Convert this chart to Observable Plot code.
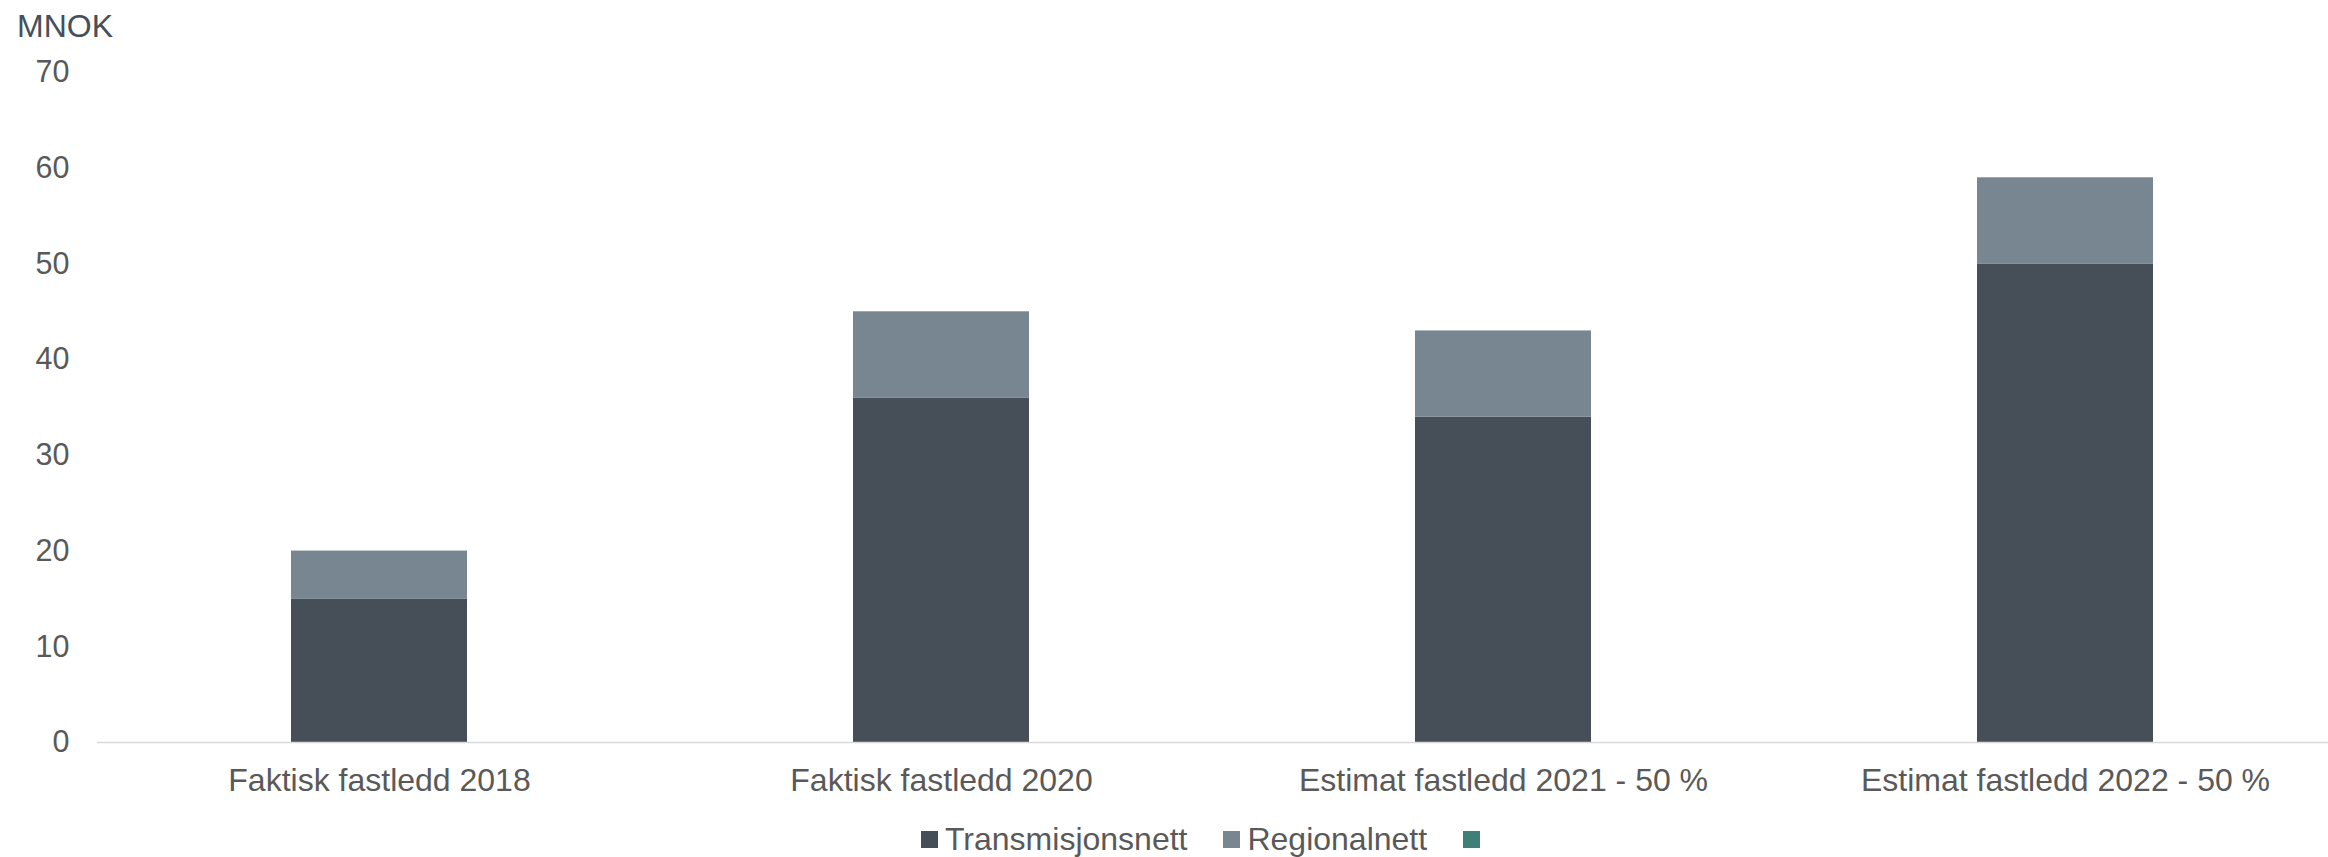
<!DOCTYPE html>
<html>
<head>
<meta charset="utf-8">
<script src="https://cdn.jsdelivr.net/npm/d3@7"></script>
<script src="https://cdn.jsdelivr.net/npm/@observablehq/plot@0.6"></script>
<style>
  html, body { margin: 0; padding: 0; background: #fff; overflow: hidden; }
  body { position: relative; width: 2328px; height: 857px; font-family: "Liberation Sans", Arial, sans-serif; }
  #unit { position: absolute; left: 17px; top: 8px; font-size: 32px; color: #44505c; }
  #chart { position: absolute; left: 0; top: 0; }
  #legend { position: absolute; left: 921px; top: 821px; display: flex; align-items: center; font-size: 32px; color: #595959; white-space: nowrap; }
  .item { display: flex; align-items: center; margin-right: 36px; }
  .sw { width: 17px; height: 17px; margin-right: 7px; }
</style>
</head>
<body>
<div id="unit">MNOK</div>
<div id="chart"></div>
<div id="legend"></div>
<script>
const categories = ["Faktisk fastledd 2018", "Faktisk fastledd 2020", "Estimat fastledd 2021 - 50 %", "Estimat fastledd 2022 - 50 %"];
const seriesNames = ["Transmisjonsnett", "Regionalnett", ""];
const transmisjonsnett = [15, 36, 34, 50];
const regionalnett = [5, 9, 9, 9];
const seriesColors = ["#464e57", "#778690", "#3f7f78"];
const yTicks = [0, 10, 20, 30, 40, 50, 60, 70];

const data = [];
categories.forEach((c, i) => {
  data.push({cat: c, series: seriesNames[0], value: transmisjonsnett[i]});
  data.push({cat: c, series: seriesNames[1], value: regionalnett[i]});
});

const chart = Plot.plot({
  width: 2328,
  height: 805,
  marginTop: 72,
  marginBottom: 63,
  marginLeft: 97,
  marginRight: 0,
  style: { fontFamily: '"Liberation Sans", Arial, sans-serif', background: "transparent" },
  x: { domain: categories, range: [97, 2346], paddingInner: 0.687, paddingOuter: 0.3435, label: null },
  y: { domain: [0, 70], label: null },
  color: { domain: seriesNames, range: seriesColors },
  marks: [
    Plot.barY(data, Plot.stackY({x: "cat", y: "value", fill: "series", order: seriesNames})),
    Plot.ruleY([0], { stroke: "#d9d9d9", strokeWidth: 1.5 }),
    Plot.axisY({ ticks: yTicks, tickSize: 0, tickPadding: 28, fontSize: 30.5, fill: "#595959", label: null }),
    Plot.axisX({ tickSize: 0, tickPadding: 26, fontSize: 32, fill: "#595959", label: null })
  ]
});
document.getElementById("chart").appendChild(chart);

const legend = document.getElementById("legend");
seriesNames.forEach((name, i) => {
  const item = document.createElement("div");
  item.className = "item";
  const sw = document.createElement("div");
  sw.className = "sw";
  sw.style.background = seriesColors[i];
  item.appendChild(sw);
  const t = document.createElement("span");
  t.textContent = name;
  item.appendChild(t);
  legend.appendChild(item);
});
</script>
</body>
</html>
